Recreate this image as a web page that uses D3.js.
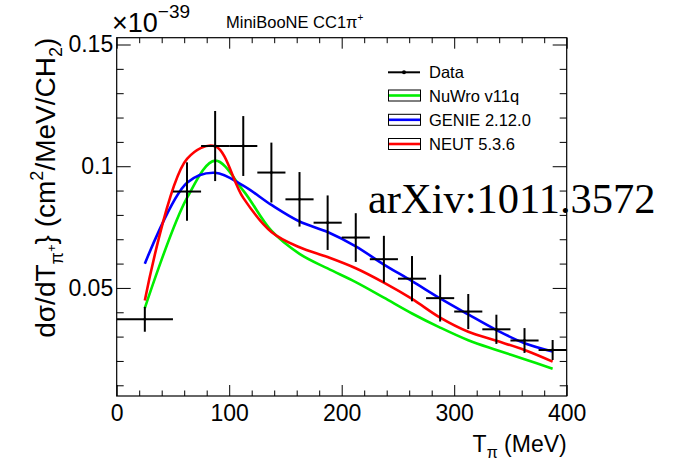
<!DOCTYPE html>
<html><head><meta charset="utf-8">
<script src="https://cdn.jsdelivr.net/npm/d3@7"></script>
<style>body{margin:0;background:#fff} svg{display:block}</style>
</head><body><svg id="c" width="673" height="462"></svg>
<script>
// ---- data ----
const binLow    = [0, 50, 75, 100, 125, 150, 175, 200, 225, 250, 275, 300, 325, 350, 375];
const binHigh   = [50, 75, 100, 125, 150, 175, 200, 225, 250, 275, 300, 325, 350, 375, 400];
const binCenter = [25, 62.5, 87.5, 112.5, 137.5, 162.5, 187.5, 212.5, 237.5, 262.5, 287.5, 312.5, 337.5, 362.5, 387.5];
const dataValues = [0.0371, 0.0896, 0.1083, 0.1083, 0.0974, 0.0864, 0.0768, 0.0707, 0.0618, 0.0538, 0.0458, 0.0403, 0.0330, 0.0284, 0.0245];
const dataErrors = [0.0051, 0.0120, 0.0144, 0.0123, 0.0123, 0.0112, 0.0112, 0.0100, 0.0096, 0.0093, 0.0096, 0.0072, 0.0060, 0.0051, 0.0041];
const nuwroValues = [0.0417, 0.0870, 0.1023, 0.0900, 0.0735, 0.0640, 0.0580, 0.0524, 0.0460, 0.0395, 0.0337, 0.0285, 0.0245, 0.0207, 0.0168];
const genieValues = [0.0599, 0.0932, 0.0973, 0.0920, 0.0841, 0.0773, 0.0730, 0.0671, 0.0596, 0.0528, 0.0457, 0.0391, 0.0327, 0.0273, 0.0239];
const neutValues  = [0.0448, 0.1030, 0.1082, 0.0870, 0.0730, 0.0667, 0.0627, 0.0581, 0.0522, 0.0455, 0.0378, 0.0320, 0.0283, 0.0245, 0.0197];
const xMajorTicks = [0, 100, 200, 300, 400];
const yMajorTicks = [0.05, 0.1, 0.15];
const legendLabels = ["Data", "NuWro v11q", "GENIE 2.12.0", "NEUT 5.3.6"];
const xDomain = [0, 400];
const yDomain = [0.0056, 0.1528];

// ---- layout ----
const L = 116.7, R = 566.7, T = 37.7, B = 396;
const FONT = "'Liberation Sans', Arial, Helvetica, sans-serif";
const colors = {nuwro: "#00ee00", genie: "#0000ff", neut: "#ff0000"};

const svg = d3.select("#c");
svg.append("rect").attr("width", 673).attr("height", 462).attr("fill", "#fff");

const x = d3.scaleLinear().domain(xDomain).range([L, R]);
const y = d3.scaleLinear().domain(yDomain).range([B, T]);

// arXiv text (under frame)
svg.append("text").attr("x", 368).attr("y", 213.3)
  .attr("font-family", "'Liberation Serif', 'Times New Roman', serif")
  .attr("font-size", 42.5).attr("fill", "#000").text("arXiv:1011.3572");

// ---- axes ----
function styleAxis(g) {
  g.select(".domain").remove();
  g.selectAll(".tick line").attr("stroke", "#000").attr("stroke-width", 1);
  g.selectAll("text").attr("font-family", FONT).attr("fill", "#000");
}
const xMinor = x.ticks(20).filter(v => !xMajorTicks.includes(v));
const yMinor = y.ticks(15).filter(v => !yMajorTicks.some(m => Math.abs(m - v) < 1e-9));

svg.append("g").attr("transform", `translate(0,${B})`)
  .call(d3.axisBottom(x).tickValues(xMajorTicks).tickSize(-11).tickPadding(9).tickFormat(d3.format("d")))
  .call(styleAxis).call(g => g.selectAll("text").attr("font-size", 23));
svg.append("g").attr("transform", `translate(0,${B})`)
  .call(d3.axisBottom(x).tickValues(xMinor).tickSize(-5.5).tickFormat(""))
  .call(styleAxis);
svg.append("g").attr("transform", `translate(0,${T})`)
  .call(d3.axisTop(x).tickValues(xMajorTicks).tickSize(-11).tickFormat(""))
  .call(styleAxis);
svg.append("g").attr("transform", `translate(0,${T})`)
  .call(d3.axisTop(x).tickValues(xMinor).tickSize(-5.5).tickFormat(""))
  .call(styleAxis);

svg.append("g").attr("transform", `translate(${L},0)`)
  .call(d3.axisLeft(y).tickValues(yMajorTicks).tickSize(-14).tickPadding(3.5).tickFormat(d => String(d)))
  .call(styleAxis).call(g => g.selectAll("text").attr("font-size", 23));
svg.append("g").attr("transform", `translate(${L},0)`)
  .call(d3.axisLeft(y).tickValues(yMinor).tickSize(-7).tickFormat(""))
  .call(styleAxis);
svg.append("g").attr("transform", `translate(${R},0)`)
  .call(d3.axisRight(y).tickValues(yMajorTicks).tickSize(-14).tickFormat(""))
  .call(styleAxis);
svg.append("g").attr("transform", `translate(${R},0)`)
  .call(d3.axisRight(y).tickValues(yMinor).tickSize(-7).tickFormat(""))
  .call(styleAxis);

// ---- curves ----
const line = d3.line().x((d, i) => x(binCenter[i])).y(d => y(d)).curve(d3.curveCatmullRom.alpha(0.5));
[[nuwroValues, colors.nuwro], [genieValues, colors.genie], [neutValues, colors.neut]].forEach(([vals, c]) => {
  svg.append("path").attr("d", line(vals)).attr("fill", "none").attr("stroke", c).attr("stroke-width", 2.6);
});

// ---- data points ----
const dg = svg.append("g").attr("stroke", "#000").attr("stroke-width", 2);
dataValues.forEach((v, i) => {
  dg.append("line").attr("x1", x(binLow[i])).attr("x2", x(binHigh[i])).attr("y1", y(v)).attr("y2", y(v));
  dg.append("line").attr("x1", x(binCenter[i])).attr("x2", x(binCenter[i]))
    .attr("y1", y(v - dataErrors[i])).attr("y2", y(v + dataErrors[i]));
});
svg.append("g").selectAll("circle").data(dataValues).join("circle")
  .attr("cx", (d, i) => x(binCenter[i])).attr("cy", d => y(d)).attr("r", 1.4).attr("fill", "#000");

// ---- frame ----
svg.append("rect").attr("x", L).attr("y", T).attr("width", R - L).attr("height", B - T)
  .attr("fill", "none").attr("stroke", "#000").attr("stroke-width", 1.2);

// ---- legend ----
const lg = svg.append("g");
const legendY = [72.3, 95.5, 119.8, 144];
const legendColors = [null, colors.nuwro, colors.genie, colors.neut];
legendLabels.forEach((lab, i) => {
  const cy = legendY[i];
  if (i === 0) {
    lg.append("line").attr("x1", 388).attr("x2", 420).attr("y1", cy).attr("y2", cy).attr("stroke", "#000").attr("stroke-width", 2);
    lg.append("circle").attr("cx", 404).attr("cy", cy).attr("r", 2).attr("fill", "#000");
  } else {
    lg.append("rect").attr("x", 388.5).attr("y", cy - 5.5).attr("width", 32).attr("height", 11)
      .attr("fill", "none").attr("stroke", "#000").attr("stroke-width", 1);
    lg.append("line").attr("x1", 389).attr("x2", 420).attr("y1", cy).attr("y2", cy)
      .attr("stroke", legendColors[i]).attr("stroke-width", 2.6);
  }
  lg.append("text").attr("x", 429).attr("y", cy + 6).attr("font-family", FONT).attr("font-size", 16.5)
    .attr("fill", "#000").text(lab);
});

// ---- titles ----
svg.append("text").attr("x", 226).attr("y", 28).attr("font-family", FONT).attr("font-size", 16.5).attr("fill", "#000")
  .call(t => { t.append("tspan").text("MiniBooNE CC1π"); t.append("tspan").attr("font-size", 10).attr("dy", -7).text("+"); });

svg.append("text").attr("x", 112).attr("y", 32).attr("font-family", FONT).attr("font-size", 27).attr("fill", "#000")
  .call(t => { t.append("tspan").text("×10"); t.append("tspan").attr("font-size", 19).attr("dy", -14.5).text("−39"); });

svg.append("text").attr("x", R).attr("y", 451.7).attr("text-anchor", "end").attr("font-family", FONT)
  .attr("font-size", 23).attr("fill", "#000")
  .call(t => {
    t.append("tspan").text("T");
    t.append("tspan").attr("font-size", 16).attr("dy", 6).text("π");
    t.append("tspan").attr("font-size", 23).attr("dy", -6).text(" (MeV)");
  });

svg.append("text").attr("transform", `translate(55,${T}) rotate(-90)`).attr("text-anchor", "end")
  .attr("font-family", FONT).attr("font-size", 28).attr("fill", "#000")
  .call(t => {
    t.append("tspan").text("dσ/dT");
    t.append("tspan").attr("font-size", 18).attr("dy", 8).text("π");
    t.append("tspan").attr("font-size", 13).attr("dy", -7).text("+");
    t.append("tspan").attr("font-size", 28).attr("dy", -1).text("} (cm");
    t.append("tspan").attr("font-size", 18).attr("dy", -12).text("2");
    t.append("tspan").attr("font-size", 28).attr("dy", 12).text("/MeV/CH");
    t.append("tspan").attr("font-size", 18).attr("dy", 7).text("2");
    t.append("tspan").attr("font-size", 28).attr("dy", -7).text(")");
  });
</script></body></html>
